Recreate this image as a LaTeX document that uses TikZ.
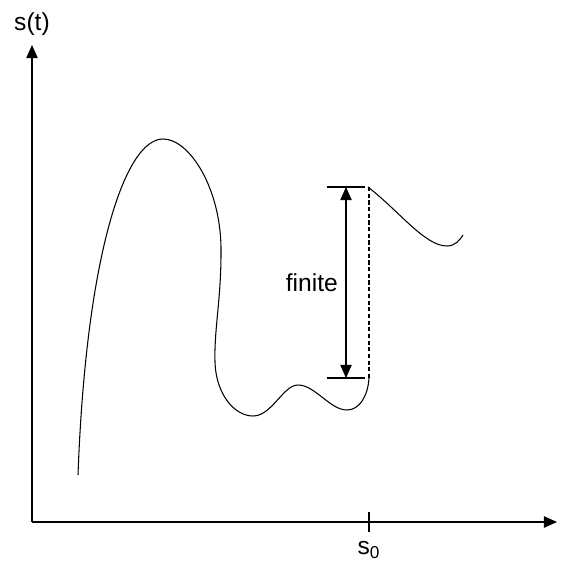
\documentclass[tikz,border=0pt]{standalone}
\usepackage{fontspec}
\setmainfont{Liberation Sans}
\usetikzlibrary{arrows.meta,positioning}

\tikzset{
  axis/.style={line width=0.8pt,-{Triangle[length=7.5pt,width=6.5pt]}},
  curve/.style={line width=0.6pt},
  guide/.style={line width=0.6pt,dash pattern=on 2.4pt off 1.4pt},
  bar/.style={line width=0.6pt},
}

\begin{document}
\begin{tikzpicture}[x=0.02cm,y=-0.02cm,>={Triangle[length=7.5pt,width=6.5pt]},
  font=\fontsize{14pt}{17pt}\selectfont]
  \useasboundingbox (0,0) rectangle (580,561);
  \coordinate (O) at (32,522);
  \coordinate (Y) at (32,45);
  \coordinate (X) at (557,522);
  \draw[axis] (O) -- (Y);
  \draw[axis] (O) -- (X);
  \node (ST) [above=2pt of Y] {s(t)};

  \coordinate (T1) at (369,512);
  \coordinate (T2) at (369,532);
  \draw[line width=0.6pt] (T1) -- (T2);
  \node (S0) [below=2pt of T2] {s\textsubscript{0}};

  \draw[curve] (78,475) .. controls (86,255) and (125,139) .. (163,139)
    .. controls (190,139) and (222,190) .. (221,253)
    .. controls (221,300) and (214,330) .. (215,362)
    .. controls (216,395) and (235,416) .. (253,416)
    .. controls (272,416) and (283,385) .. (298,385)
    .. controls (315,385) and (330,410) .. (347,410)
    .. controls (360,410) and (368,395) .. (369,378);
  \draw[curve] (368,187) .. controls (400,212) and (425,246) .. (447,246)
    .. controls (455,246) and (460,240) .. (463,235);

  \coordinate (A) at (346,187);
  \coordinate (B) at (346,378);
  \coordinate (D1) at (369,187);
  \coordinate (D2) at (369,378);
  \draw[bar] ([xshift=-11]A) -- ([xshift=11]A);
  \draw[bar] ([xshift=-11]B) -- ([xshift=11]B);
  \draw[bar,<->] (A) -- node (L) [left=1pt] {finite} (B);
  \draw[guide] (D1) -- (D2);
\end{tikzpicture}
\end{document}
